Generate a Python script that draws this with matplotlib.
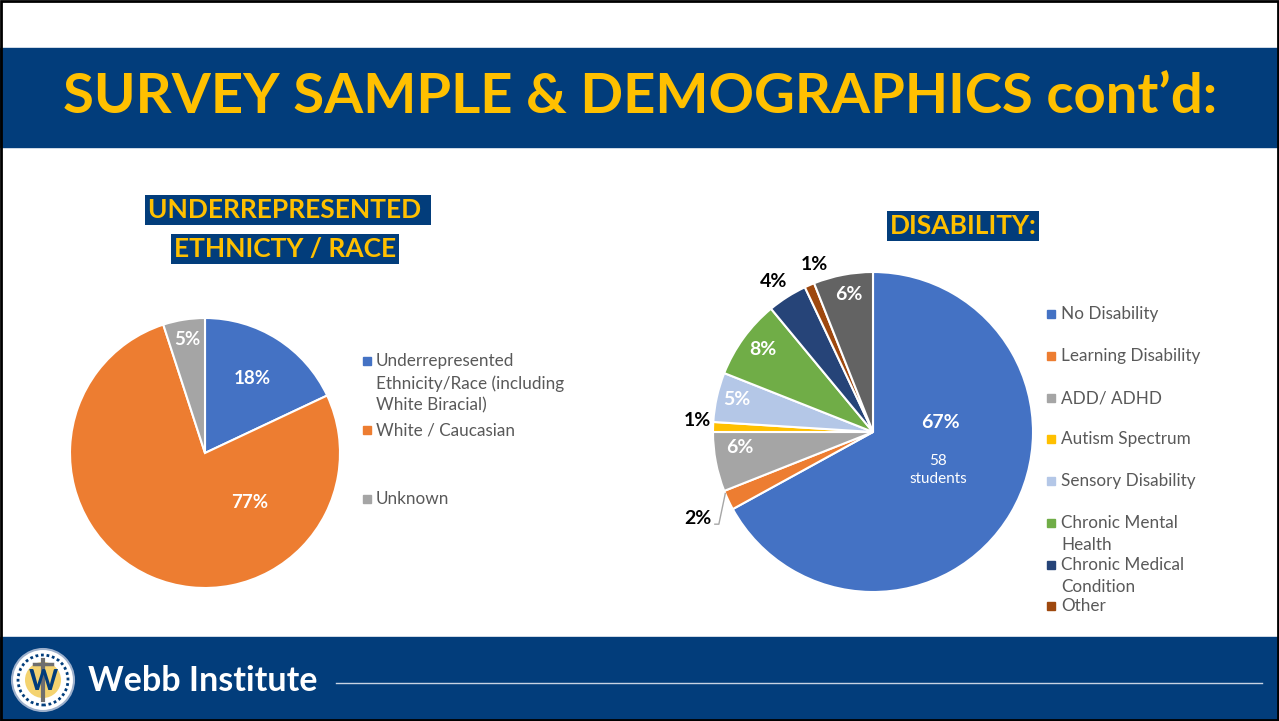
import matplotlib
matplotlib.use("Agg")
import matplotlib.pyplot as plt
from matplotlib.patches import Rectangle, Circle
import numpy as np

W, H = 1279, 721
NAVY = "#023D7B"
GOLD = "#FFC000"
GREY_TXT = "#595959"
plt.rcParams['font.family'] = ['Lato', 'DejaVu Sans']

# left chart data
eth_labels = ["Underrepresented\nEthnicity/Race (including\nWhite Biracial)",
              "White / Caucasian", "Unknown"]
eth_values = [18, 77, 5]
eth_colors = ["#4472C4", "#ED7D31", "#A5A5A5"]

# right chart data
dis_labels = ["No Disability", "Learning Disability", "ADD/ ADHD", "Autism Spectrum",
              "Sensory Disability", "Chronic Mental\nHealth", "Chronic Medical\nCondition", "Other"]
dis_values = [67, 2, 6, 1, 5, 8, 4, 1, 6]
dis_colors = ["#4472C4", "#ED7D31", "#A5A5A5", "#FFC000", "#B4C7E7",
              "#70AD47", "#264478", "#9E480E", "#636363"]
no_dis_students = 58


def Y(y):
    return H - y


fig = plt.figure(figsize=(W / 100, H / 100), dpi=100)
ax = fig.add_axes([0, 0, 1, 1])

# bands
ax.add_patch(Rectangle((0, Y(147)), W, 99, color=NAVY, zorder=0))
ax.add_patch(Rectangle((0, 0), W, H - 637, color=NAVY, zorder=0))
ax.text(640, Y(97), "SURVEY SAMPLE & DEMOGRAPHICS cont\u2019d:", color=GOLD,
        fontsize=40.5, fontweight="bold", ha="center", va="center")

# footer
ax.text(88, Y(681), "Webb Institute", color="white", fontsize=24.5,
        fontweight="bold", ha="left", va="center")
ax.plot([336, 1262], [Y(683), Y(683)], color="#C8D3E3", lw=1)
ax.add_patch(Circle((43, Y(680)), 31, facecolor="white", edgecolor="#9DB0CC", lw=1.5, zorder=2))
ax.add_patch(Circle((43, Y(680)), 25, facecolor="none", edgecolor=NAVY, lw=2,
                    linestyle=(0, (1, 1)), zorder=3))
ax.add_patch(Circle((43, Y(680)), 18, facecolor="#F2C94C", edgecolor="none", alpha=0.8, zorder=3))
ax.plot([43, 43], [Y(660), Y(700)], color="#6E6E6E", lw=3, zorder=4)
ax.plot([34, 52], [Y(664), Y(664)], color="#6E6E6E", lw=2.5, zorder=4)
ax.text(43, Y(682), "W", color=NAVY, fontsize=20, fontweight="bold",
        ha="center", va="center", zorder=5)

# section titles
ax.text(288, Y(210), "UNDERREPRESENTED ", color=GOLD, fontsize=19, fontweight="bold",
        ha="center", va="center", bbox=dict(facecolor=NAVY, edgecolor="none", pad=2))
ax.text(285, Y(249), "ETHNICTY / RACE", color=GOLD, fontsize=19, fontweight="bold",
        ha="center", va="center", bbox=dict(facecolor=NAVY, edgecolor="none", pad=2))
ax.text(963, Y(226), "DISABILITY:", color=GOLD, fontsize=19, fontweight="bold",
        ha="center", va="center", bbox=dict(facecolor=NAVY, edgecolor="none", pad=2))

# left pie
c1, r1 = (205, Y(453)), 135
w1, _ = ax.pie(eth_values, colors=eth_colors, startangle=90, counterclock=False,
               center=c1, radius=r1, wedgeprops=dict(edgecolor="white", linewidth=1.5))
lab1 = [(None, 0.65), (-48, 0.49), (None, 0.85)]
for w, v, (ang, f) in zip(w1, eth_values, lab1):
    a = np.deg2rad(ang if ang is not None else (w.theta1 + w.theta2) / 2)
    ax.text(c1[0] + f * r1 * np.cos(a), c1[1] + f * r1 * np.sin(a), f"{v}%",
            color="white", fontsize=13.5, fontweight="bold", ha="center", va="center")

leg_y1 = [361, 430, 499]
for lab, col, yy in zip(eth_labels, eth_colors, leg_y1):
    ax.add_patch(Rectangle((363, Y(yy) - 4), 8, 8, color=col))
    ax.text(376, Y(yy) + 8, lab, color=GREY_TXT, fontsize=12.3, ha="left", va="top",
            linespacing=1.45)

# right pie
c2, r2 = (873, Y(432)), 160
w2, _ = ax.pie(dis_values, colors=dis_colors, startangle=90, counterclock=False,
               center=c2, radius=r2, wedgeprops=dict(edgecolor="white", linewidth=1.5))
# (distance factor, angle shift, inside?)
lab2 = [(None, 0, None), (1.22, 1, False), (0.84, -4, True), (1.1, -2, False),
        (0.875, -1, True), (0.86, -1, True), (1.13, 1, False), (1.11, -4, False),
        (0.87, -1, True)]
for i, (w, v, (f, da, inside)) in enumerate(zip(w2, dis_values, lab2)):
    if f is None:
        ax.text(c2[0] + 67, c2[1] + 9, f"{v}%", color="white", fontsize=14,
                fontweight="bold", ha="center", va="center")
        ax.text(c2[0] + 65, c2[1] - 38, f"{no_dis_students}\nstudents", color="white",
                fontsize=11, ha="center", va="center", linespacing=1.35)
        continue
    a = np.deg2rad((w.theta1 + w.theta2) / 2 + da)
    x, y = c2[0] + f * r2 * np.cos(a), c2[1] + f * r2 * np.sin(a)
    ax.text(x, y, f"{v}%", color="white" if inside else "black", fontsize=14,
            fontweight="bold", ha="center", va="center")
    if f > 1.15:
        a2 = np.deg2rad(w.theta1 + 1)
        ex, ey = c2[0] + r2 * np.cos(a2), c2[1] + r2 * np.sin(a2)
        ax.plot([x + 17, x + 21, ex], [y - 6, y - 6, ey], color="#A6A6A6", lw=1)

leg_y2 = [314, 356, 398, 439, 481, 523, 565, 606]
for lab, col, yy in zip(dis_labels, dis_colors, leg_y2):
    ax.add_patch(Rectangle((1047, Y(yy) - 4), 8, 8, color=col))
    ax.text(1061, Y(yy) + 8, lab, color=GREY_TXT, fontsize=12.3, ha="left", va="top",
            linespacing=1.5)

# outer frame
ax.add_patch(Rectangle((1, 1), W - 2, H - 2, fill=False, edgecolor="black", lw=2, zorder=10))

ax.set_xlim(0, W)
ax.set_ylim(0, H)
ax.set_aspect("auto")
ax.axis("off")

fig.savefig("out.png", dpi=100)
